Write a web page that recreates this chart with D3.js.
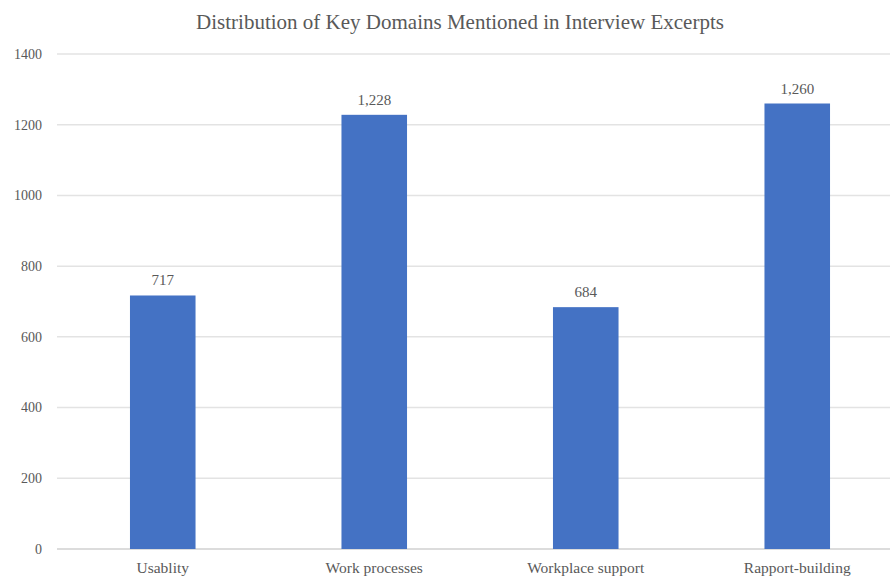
<!DOCTYPE html>
<html>
<head>
<meta charset="utf-8">
<script src="https://cdn.jsdelivr.net/npm/d3@7"></script>
<style>
  body { margin: 0; background: #fff; }
  text { font-family: "Liberation Serif", "Times New Roman", serif; fill: #595959; }
</style>
</head>
<body>
<div id="chart"></div>
<script>
var w = 890;
var h = 579;

var margin = {
  top: 54,
  bottom: 30,
  left: 57,
  right: -13
}

var width = w - margin.left - margin.right;
var height = h - margin.top - margin.bottom;

var categories = ["Usablity", "Work processes", "Workplace support", "Rapport-building"];
var counts = [717, 1228, 684, 1260];
var yTicks = [0, 200, 400, 600, 800, 1000, 1200, 1400];

var x = d3.scaleBand()
  .domain(categories)
  .range([0, width])
  .paddingInner(0.69)
  .paddingOuter(0.345);

var y = d3.scaleLinear()
  .domain([0, 1400])
  .range([height, 0]);

var svg = d3.select("#chart").append("svg")
  .attr("width", w)
  .attr("height", h);

svg.append("text")
  .attr("x", 460)
  .attr("y", 29)
  .attr("text-anchor", "middle")
  .style("font-size", "21px")
  .text("Distribution of Key Domains Mentioned in Interview Excerpts");

var chart = svg.append("g").attr("transform", "translate(" + margin.left + "," + margin.top + ")");

// gridlines
chart.selectAll("line.grid")
  .data(yTicks)
  .join("line")
  .attr("class", "grid")
  .attr("x1", 0)
  .attr("x2", width)
  .attr("y1", function (d) { return y(d); })
  .attr("y2", function (d) { return y(d); })
  .style("stroke", function (d) { return d === 0 ? "#d0d0d0" : "#e3e3e3"; })
  .style("stroke-width", 1.5);

chart.selectAll("text.ytick")
  .data(yTicks)
  .join("text")
  .attr("class", "ytick")
  .attr("x", -15)
  .attr("y", function (d) { return y(d); })
  .attr("dy", "0.35em")
  .attr("text-anchor", "end")
  .style("font-size", "14px")
  .text(function (d) { return d; });

var data = categories.map(function (c, i) {
  return { name: c, value: counts[i] };
});

chart.selectAll("rect")
  .data(data)
  .join("rect")
  .attr("x", function (d) { return x(d.name); })
  .attr("width", x.bandwidth())
  .attr("y", function (d) { return y(d.value); })
  .attr("height", function (d) { return height - y(d.value); })
  .style("fill", "#4472c4");

chart.selectAll("text.val")
  .data(data)
  .join("text")
  .attr("class", "val")
  .attr("x", function (d) { return x(d.name) + x.bandwidth() / 2; })
  .attr("y", function (d) { return y(d.value) - 10; })
  .attr("text-anchor", "middle")
  .style("font-size", "15px")
  .text(function (d) { return d3.format(",")(d.value); });

chart.selectAll("text.xlab")
  .data(categories)
  .join("text")
  .attr("class", "xlab")
  .attr("x", function (d) { return x(d) + x.bandwidth() / 2; })
  .attr("y", height + 24)
  .attr("text-anchor", "middle")
  .style("font-size", "15.5px")
  .text(function (d) { return d; });
</script>
</body>
</html>
